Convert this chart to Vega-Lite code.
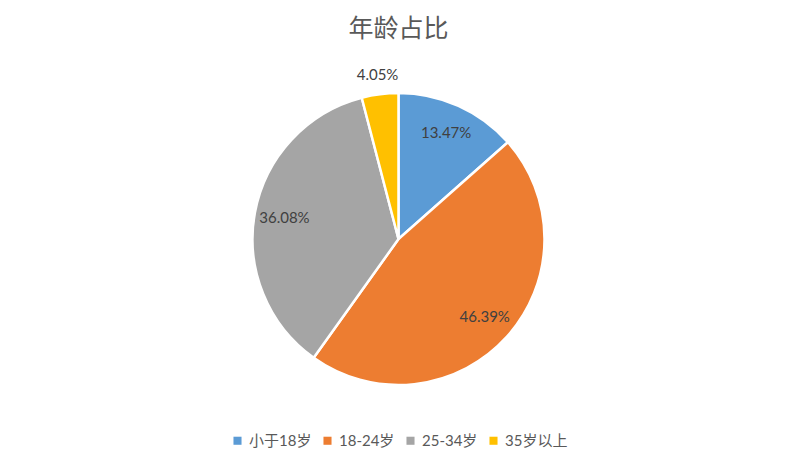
{
  "$schema": "https://vega.github.io/schema/vega-lite/v6.json",
  "autosize": {"type": "fit", "contains": "padding"},
  "width": 797,
  "height": 470,
  "padding": {"top": 17, "bottom": 21, "left": 5, "right": 5},
  "background": "white",
  "title": {
    "text": "年龄占比",
    "font": "Noto Sans CJK SC",
    "fontSize": 25,
    "fontWeight": "normal",
    "color": "#595959",
    "anchor": "middle",
    "offset": 14
  },
  "data": {
    "values": [
      {"group": "小于18岁", "pct": 13.47, "label": "13.47%", "order": 1},
      {"group": "18-24岁", "pct": 46.39, "label": "46.39%", "order": 2},
      {"group": "25-34岁", "pct": 36.08, "label": "36.08%", "order": 3},
      {"group": "35岁以上", "pct": 4.05, "label": "4.05%", "order": 4}
    ]
  },
  "encoding": {
    "theta": {"field": "pct", "type": "quantitative", "stack": true},
    "order": {"field": "order", "type": "quantitative"},
    "color": {
      "field": "group",
      "type": "nominal",
      "sort": ["小于18岁", "18-24岁", "25-34岁", "35岁以上"],
      "scale": {
        "domain": ["小于18岁", "18-24岁", "25-34岁", "35岁以上"],
        "range": ["#5B9BD5", "#ED7D31", "#A5A5A5", "#FFC000"]
      },
      "legend": {
        "orient": "bottom",
        "direction": "horizontal",
        "title": null,
        "symbolType": "square",
        "symbolSize": 65,
        "symbolStrokeWidth": 0,
        "labelFont": "Lato, Noto Sans CJK SC",
        "labelFontSize": 15,
        "labelColor": "#595959",
        "columnPadding": 8,
        "offset": 11
      }
    }
  },
  "layer": [
    {
      "mark": {"type": "arc", "outerRadius": 146, "stroke": "white", "strokeWidth": 2.5}
    },
    {
      "mark": {"type": "text", "radius": 116, "font": "Lato", "fontSize": 15},
      "encoding": {
        "text": {"condition": {"test": "datum.pct > 5", "field": "label"}, "value": ""},
        "color": {"value": "#404040"}
      }
    },
    {
      "mark": {"type": "text", "radius": 165, "font": "Lato", "fontSize": 15},
      "encoding": {
        "text": {"condition": {"test": "datum.pct <= 5", "field": "label"}, "value": ""},
        "color": {"value": "#404040"}
      }
    }
  ],
  "config": {
    "view": {"stroke": null},
    "legend": {"layout": {"bottom": {"anchor": "middle"}}}
  }
}
